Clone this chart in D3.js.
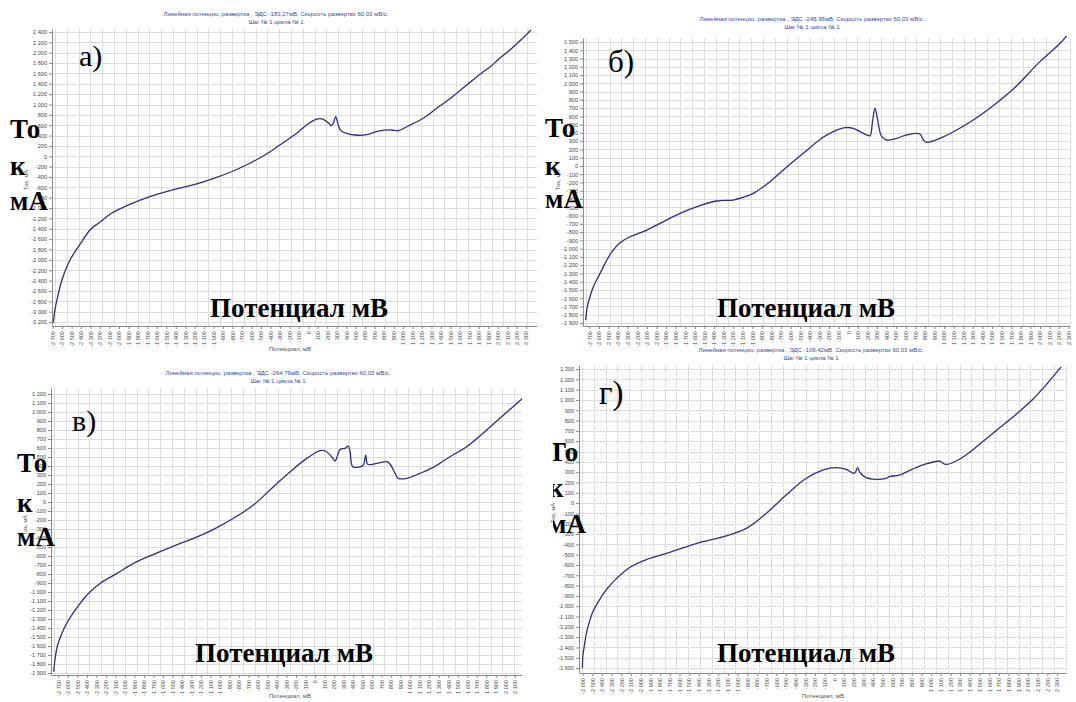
<!DOCTYPE html>
<html>
<head>
<meta charset="utf-8">
<script src="https://cdn.jsdelivr.net/npm/d3@7"></script>
<style>
body { margin: 0; background: #fff; }
svg { display: block; }
.tick text { font-family: "Liberation Sans", Arial, sans-serif; font-size: 5.6px; fill: #484848; }
.tick line, .domain { stroke: #8a8a8a; }
.ptitle { font-family: "Liberation Sans", Arial, sans-serif; font-size: 6px; fill: #3a4a9c; text-anchor: middle; }
.atitle { font-family: "Liberation Sans", Arial, sans-serif; font-size: 6px; fill: #505050; text-anchor: middle; }
.big { font-family: "Liberation Serif", "Times New Roman", serif; font-weight: bold; font-size: 27px; fill: #000; }
.plabel { font-family: "Liberation Serif", "Times New Roman", serif; font-size: 30px; fill: #000; }
</style>
</head>
<body>
<div id="viz"></div>
<script>
// а) potential, mV / current, mA
var potA = [-2693,-2675,-2655,-2602,-2517,-2401,-2306,-2200,-2074,-1884,-1673,-1462,-1216,-1005,-794,-618,-441,-265,-123,-18,88,158,226,246,271,289,310,334,364,404,492,615,738,879,949,1055,1213,1355,1477,1672,1817,1915,2013,2128,2263,2350];
var curA = [-3210,-2950,-2775,-2389,-2003,-1674,-1423,-1269,-1095,-927,-780,-664,-554,-432,-284,-135,44,263,444,604,720,715,620,591,680,765,640,521,470,444,411,417,488,508,494,585,734,927,1087,1377,1590,1720,1880,2052,2278,2440];

// б)
var potB = [-2738,-2721,-2693,-2658,-2588,-2527,-2466,-2380,-2276,-2137,-1963,-1754,-1546,-1372,-1198,-1094,-990,-816,-677,-469,-277,-156,-34,53,157,227,251,279,307,349,401,505,610,748,783,818,957,1131,1304,1478,1721,2000,2226,2300];
var curB = [-1864,-1703,-1582,-1461,-1299,-1160,-1040,-928,-856,-795,-694,-573,-480,-424,-412,-379,-331,-190,-49,153,335,415,463,456,395,367,516,698,556,354,314,335,375,387,314,286,335,435,556,698,930,1262,1503,1610];

// в)
var potC = [-2749,-2731,-2707,-2661,-2598,-2525,-2472,-2388,-2262,-2083,-1908,-1698,-1488,-1278,-1068,-858,-648,-438,-262,-87,53,105,175,210,238,262,315,350,368,396,473,508,533,554,648,753,788,841,875,963,1103,1243,1418,1594,1943,2181];
var curC = [-1885,-1719,-1589,-1455,-1322,-1205,-1128,-1022,-905,-793,-681,-581,-489,-404,-304,-181,-33,170,337,485,570,567,503,456,522,585,596,622,559,392,392,411,522,419,430,448,422,319,263,263,319,385,503,615,930,1152];

// г)
var potD = [-2603,-2597,-2579,-2562,-2530,-2490,-2440,-2355,-2252,-2115,-1942,-1736,-1530,-1358,-1152,-910,-704,-498,-291,-120,18,122,207,241,266,328,431,534,569,672,809,947,1084,1102,1147,1222,1360,1531,1704,1876,2048,2200,2343];
var curD = [-1603,-1474,-1361,-1264,-1150,-1045,-960,-840,-733,-625,-548,-488,-424,-375,-327,-245,-100,78,240,320,343,327,288,343,294,246,230,240,256,272,330,379,408,401,376,391,466,595,728,860,1005,1160,1320];

// tick values
var xTicksA = d3.range(-2700, 2301, 100);
var xTicksB = d3.range(-2700, 2301, 100);
var xTicksC = d3.range(-2700, 2101, 100);
var xTicksD = d3.range(-2600, 2301, 100);
var yTicksA = d3.range(-3200, 2401, 200);
var yTicksB = d3.range(-1900, 1501, 100);
var yTicksC = d3.range(-1900, 1201, 100);
var yTicksD = d3.range(-1600, 1301, 100);

var emf = ["-183,27", "-245,96", "-264,79", "-109,42"];
var letters = ["а)", "б)", "в)", "г)"];

var w = 1076, h = 702;

var fmt = d3.formatLocale({decimal: ",", thousands: "\u00a0", grouping: [3], currency: ["", ""], minus: "-"}).format(",d");

var svg = d3.select("#viz").append("svg")
    .attr("width", w)
    .attr("height", h);

var panels = [
  {pot: potA, cur: curA, xT: xTicksA, yT: yTicksA, emf: emf[0], letter: letters[0],
   left: 52, right: 538, top: 29, bottom: 326, xDom: [-2707, 2425], yDom: [-3277, 2458],
   tx: 276, ty: 16, yTitle: [28, 180], xTitle: [290, 351],
   lx: 79, ly: 66, ls: 30, bx: 10, by: [138, 175, 210], px: 210, py: 317},
  {pot: potB, cur: curB, xT: xTicksB, yT: yTicksB, emf: emf[1], letter: letters[1],
   left: 583, right: 1070, top: 38, bottom: 326, xDom: [-2766, 2313], yDom: [-1936, 1548],
   tx: 812, ty: 21, yTitle: [560, 180], xTitle: null, bg: [537, 0, 539, 347],
   lx: 608, ly: 72, ls: 31, bx: 545, by: [137, 175, 208], px: 717, py: 317},
  {pot: potC, cur: curC, xT: xTicksC, yT: yTicksC, emf: emf[2], letter: letters[2],
   left: 51, right: 522, top: 388, bottom: 675, xDom: [-2777, 2176], yDom: [-1922, 1267],
   tx: 278, ty: 375, yTitle: [27, 525], xTitle: [290, 698],
   lx: 72, ly: 431, ls: 30, bx: 17, by: [472, 512, 546], px: 195, py: 662},
  {pot: potD, cur: curD, xT: xTicksD, yT: yTicksD, emf: emf[3], letter: letters[3],
   left: 579, right: 1066, top: 365, bottom: 673, xDom: [-2638, 2393], yDom: [-1648, 1339],
   tx: 811, ty: 352, yTitle: [555, 513], xTitle: [823, 698], bg: [537, 347, 539, 355], dashed: true, clipX: 553,
   lx: 599, ly: 404, ls: 33, bx: 548, by: [461, 497, 533], px: 717, py: 662}
];

panels.forEach(function(p, i) { drawPanel(p, i); });

function drawPanel(p, i) {
    var g = svg.append("g");

    if (p.bg) {
        g.append("rect")
            .attr("x", p.bg[0]).attr("y", p.bg[1])
            .attr("width", p.bg[2]).attr("height", p.bg[3])
            .attr("fill", "#fff");
    }

    var x = d3.scaleLinear().domain(p.xDom).range([p.left, p.right]);
    var y = d3.scaleLinear().domain(p.yDom).range([p.bottom, p.top]);

    // grid
    var grid = g.append("g")
        .attr("stroke", p.dashed ? "#d2d2d2" : "#dcdcdc")
        .attr("stroke-width", 1)
        .attr("stroke-dasharray", p.dashed ? "2,1" : null);
    grid.selectAll(".hg")
        .data(p.yT)
        .enter().append("line")
        .attr("x1", p.left).attr("x2", p.right)
        .attr("y1", function(d) { return Math.round(y(d)) + 0.5; })
        .attr("y2", function(d) { return Math.round(y(d)) + 0.5; });
    grid.selectAll(".vg")
        .data(d3.range(p.left + 3, p.right, 11.8))
        .enter().append("line")
        .attr("y1", p.top).attr("y2", p.bottom)
        .attr("x1", function(d) { return Math.round(d) + 0.5; })
        .attr("x2", function(d) { return Math.round(d) + 0.5; });

    // axes
    g.append("g")
        .attr("transform", "translate(0," + p.bottom + ")")
        .call(d3.axisBottom(x).tickValues(p.xT).tickFormat(fmt).tickSize(3).tickSizeOuter(0))
        .call(function(s) {
            s.selectAll("text")
                .attr("transform", "rotate(-90)")
                .attr("text-anchor", "end")
                .attr("x", -5).attr("y", 0).attr("dy", "0.32em");
        });

    g.append("g")
        .attr("transform", "translate(" + p.left + ",0)")
        .call(d3.axisLeft(y).tickValues(p.yT).tickFormat(fmt).tickSize(3).tickPadding(2).tickSizeOuter(0));

    // curve
    var clipId = "clip" + i;
    g.append("clipPath").attr("id", clipId)
        .append("rect")
        .attr("x", p.left).attr("y", p.top - 2)
        .attr("width", p.right - p.left).attr("height", p.bottom - p.top + 2);

    var line = d3.line()
        .x(function(d) { return x(d[0]); })
        .y(function(d) { return y(d[1]); })
        .curve(d3.curveCatmullRom.alpha(0.5));

    g.append("path")
        .datum(d3.zip(p.pot, p.cur))
        .attr("clip-path", "url(#" + clipId + ")")
        .attr("fill", "none")
        .attr("stroke", "#2c2f84")
        .attr("stroke-width", 1.3)
        .attr("d", line);

    // titles
    g.append("text").attr("class", "ptitle")
        .attr("x", p.tx).attr("y", p.ty)
        .text("Линейная потенцио. развертка , ЭДС " + p.emf + "мВ, Скорость развертки 60,03 мВ/с.");
    g.append("text").attr("class", "ptitle")
        .attr("x", p.tx).attr("y", p.ty + 7.5)
        .text("Шаг № 1 цикла № 1");

    g.append("text").attr("class", "atitle")
        .attr("transform", "translate(" + p.yTitle[0] + "," + p.yTitle[1] + ") rotate(-90)")
        .text("Ток, мА");
    if (p.xTitle) {
        g.append("text").attr("class", "atitle")
            .attr("x", p.xTitle[0]).attr("y", p.xTitle[1])
            .text("Потенциал, мВ");
    }

    // overlay labels
    g.append("text").attr("class", "plabel")
        .attr("x", p.lx).attr("y", p.ly)
        .style("font-size", p.ls + "px")
        .text(p.letter);

    var over = g.append("g");
    if (p.clipX) {
        var cid = "bigclip" + i;
        g.append("clipPath").attr("id", cid)
            .append("rect").attr("x", p.clipX).attr("y", p.top).attr("width", 200).attr("height", p.bottom - p.top);
        over.attr("clip-path", "url(#" + cid + ")");
    }
    ["То", "к", "мА"].forEach(function(t, k) {
        over.append("text").attr("class", "big")
            .attr("x", p.bx).attr("y", p.by[k])
            .text(t);
    });

    g.append("text").attr("class", "big")
        .attr("x", p.px).attr("y", p.py)
        .text("Потенциал мВ");
}
</script>
</body>
</html>
